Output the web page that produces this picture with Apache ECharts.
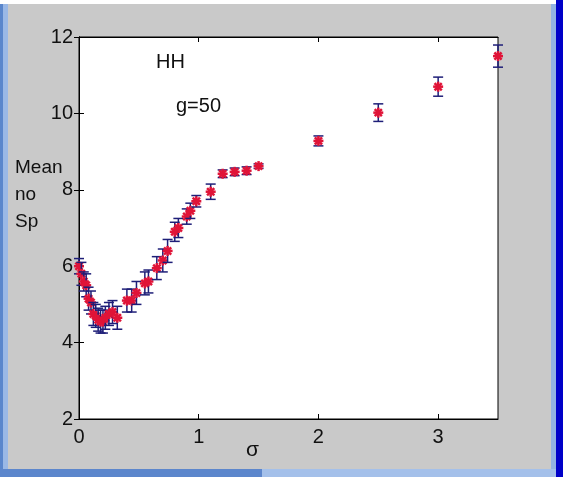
<!DOCTYPE html>
<html>
<head>
<meta charset="utf-8">
<script src="https://cdn.jsdelivr.net/npm/echarts@6/dist/echarts.min.js"></script>
<style>
html,body{margin:0;padding:0;background:#c9c9c9;}
#chart{width:563px;height:477px;}
</style>
</head>
<body>
<div id="chart"></div>
<script>
// sigma values (x)
var sigma = [0, 0.02, 0.04, 0.06, 0.08, 0.10, 0.12, 0.14, 0.16, 0.18, 0.20, 0.22, 0.25, 0.28, 0.32,
             0.40, 0.44, 0.48, 0.55, 0.58, 0.65, 0.70, 0.74, 0.80, 0.83, 0.90, 0.93, 0.98,
             1.10, 1.20, 1.30, 1.40, 1.50, 2.00, 2.50, 3.00, 3.50];
// mean number of spikes
var meanSp = [6.0, 5.8, 5.6, 5.5, 5.15, 5.05, 4.75, 4.7, 4.6, 4.55, 4.55, 4.65, 4.75, 4.8, 4.65,
              5.1, 5.1, 5.3, 5.55, 5.6, 5.95, 6.15, 6.4, 6.9, 7.0, 7.3, 7.45, 7.7,
              7.95, 8.42, 8.47, 8.5, 8.62, 9.28, 10.02, 10.7, 11.5];
// error half-widths
var errSp = [0.2, 0.3, 0.25, 0.3, 0.3, 0.3, 0.3, 0.3, 0.3, 0.3, 0.3, 0.3, 0.3, 0.3, 0.3,
             0.3, 0.3, 0.3, 0.3, 0.3, 0.3, 0.3, 0.3, 0.25, 0.25, 0.2, 0.2, 0.15,
             0.2, 0.1, 0.1, 0.1, 0.06, 0.13, 0.23, 0.25, 0.29];
var xTicks = [0, 1, 2, 3];
var yTicks = [2, 4, 6, 8, 10, 12];

var data = sigma.map(function (s, i) { return [s, meanSp[i], errSp[i]]; });

var chart = echarts.init(document.getElementById('chart'));
var FONT = 'Liberation Sans, Arial, sans-serif';

function renderItem(params, api) {
  var x = api.value(0), y = api.value(1), e = api.value(2);
  var c = api.coord([x, y]);
  var hi = api.coord([x, y + e]);
  var lo = api.coord([x, y - e]);
  var cw = 5;
  var bar = '#1e1e78';
  var red = '#e01438';
  var r = 5, d = 3.6;
  return {
    type: 'group',
    children: [
      {type: 'line', shape: {x1: c[0], y1: hi[1], x2: c[0], y2: lo[1]}, style: {stroke: bar, lineWidth: 1.5}},
      {type: 'line', shape: {x1: c[0] - cw, y1: hi[1], x2: c[0] + cw, y2: hi[1]}, style: {stroke: bar, lineWidth: 1.5}},
      {type: 'line', shape: {x1: c[0] - cw, y1: lo[1], x2: c[0] + cw, y2: lo[1]}, style: {stroke: bar, lineWidth: 1.5}},
      {type: 'line', shape: {x1: c[0] - r, y1: c[1], x2: c[0] + r, y2: c[1]}, style: {stroke: red, lineWidth: 2.5}},
      {type: 'line', shape: {x1: c[0], y1: c[1] - r, x2: c[0], y2: c[1] + r}, style: {stroke: red, lineWidth: 2.5}},
      {type: 'line', shape: {x1: c[0] - d, y1: c[1] - d, x2: c[0] + d, y2: c[1] + d}, style: {stroke: red, lineWidth: 2.5}},
      {type: 'line', shape: {x1: c[0] - d, y1: c[1] + d, x2: c[0] + d, y2: c[1] - d}, style: {stroke: red, lineWidth: 2.5}}
    ]
  };
}

var axisLineStyle = {show: true, lineStyle: {color: '#000', width: 1}};
var tickStyle = {show: true, inside: true, length: 5, lineStyle: {color: '#000'}};

chart.setOption({
  backgroundColor: '#c9c9c9',
  animation: false,
  grid: {left: 79, right: 65, top: 37, bottom: 58, show: true, backgroundColor: '#ffffff', borderColor: '#000', borderWidth: 1},
  xAxis: [
    {type: 'value', min: 0, max: 3.5, interval: 1, position: 'bottom',
     axisLine: axisLineStyle, axisTick: Object.assign({customValues: xTicks}, tickStyle), splitLine: {show: false},
     axisLabel: {customValues: xTicks, color: '#111', fontFamily: FONT, fontSize: 20, margin: 8}},
    {type: 'value', min: 0, max: 3.5, interval: 1, position: 'top',
     axisLine: axisLineStyle, axisTick: Object.assign({customValues: xTicks}, tickStyle), splitLine: {show: false},
     axisLabel: {show: false}}
  ],
  yAxis: [
    {type: 'value', min: 2, max: 12, interval: 2, position: 'left',
     axisLine: axisLineStyle, axisTick: tickStyle, splitLine: {show: false},
     axisLabel: {color: '#111', fontFamily: FONT, fontSize: 20, margin: 6}},
    {type: 'value', min: 2, max: 12, interval: 2, position: 'right',
     axisLine: axisLineStyle, axisTick: tickStyle, splitLine: {show: false},
     axisLabel: {show: false}}
  ],
  series: [{
    type: 'custom',
    renderItem: renderItem,
    data: data,
    clip: false,
    encode: {x: 0, y: 1}
  }],
  graphic: [
    {type: 'rect', left: 0, top: 0, shape: {width: 563, height: 4}, style: {fill: '#ffffff'}, silent: true},
    {type: 'rect', left: 0, top: 4, shape: {width: 3, height: 473}, style: {fill: '#5a86cc'}, silent: true},
    {type: 'rect', left: 3, top: 4, shape: {width: 5, height: 473}, style: {fill: '#9ab8e6'}, silent: true},
    {type: 'rect', left: 551, top: 4, shape: {width: 5, height: 473}, style: {fill: '#92b2e2'}, silent: true},
    {type: 'rect', left: 556, top: 0, shape: {width: 7, height: 477}, style: {fill: '#0000c8'}, silent: true},
    {type: 'rect', left: 0, top: 469, shape: {width: 262, height: 8}, style: {fill: '#5c86cc'}, silent: true},
    {type: 'rect', left: 262, top: 469, shape: {width: 294, height: 8}, style: {fill: '#a4c0ea'}, silent: true},
    {type: 'text', left: 156, top: 52, style: {text: 'HH', font: '20px ' + FONT, fill: '#111'}},
    {type: 'text', left: 176, top: 96, style: {text: 'g=50', font: '20px ' + FONT, fill: '#111'}},
    {type: 'text', left: 15, top: 154, style: {text: 'Mean\nno\nSp', font: '19px ' + FONT, lineHeight: 27, fill: '#111'}},
    {type: 'text', left: 246, top: 440, style: {text: 'σ', font: '21px ' + FONT, fill: '#111'}}
  ]
});
</script>
</body>
</html>
